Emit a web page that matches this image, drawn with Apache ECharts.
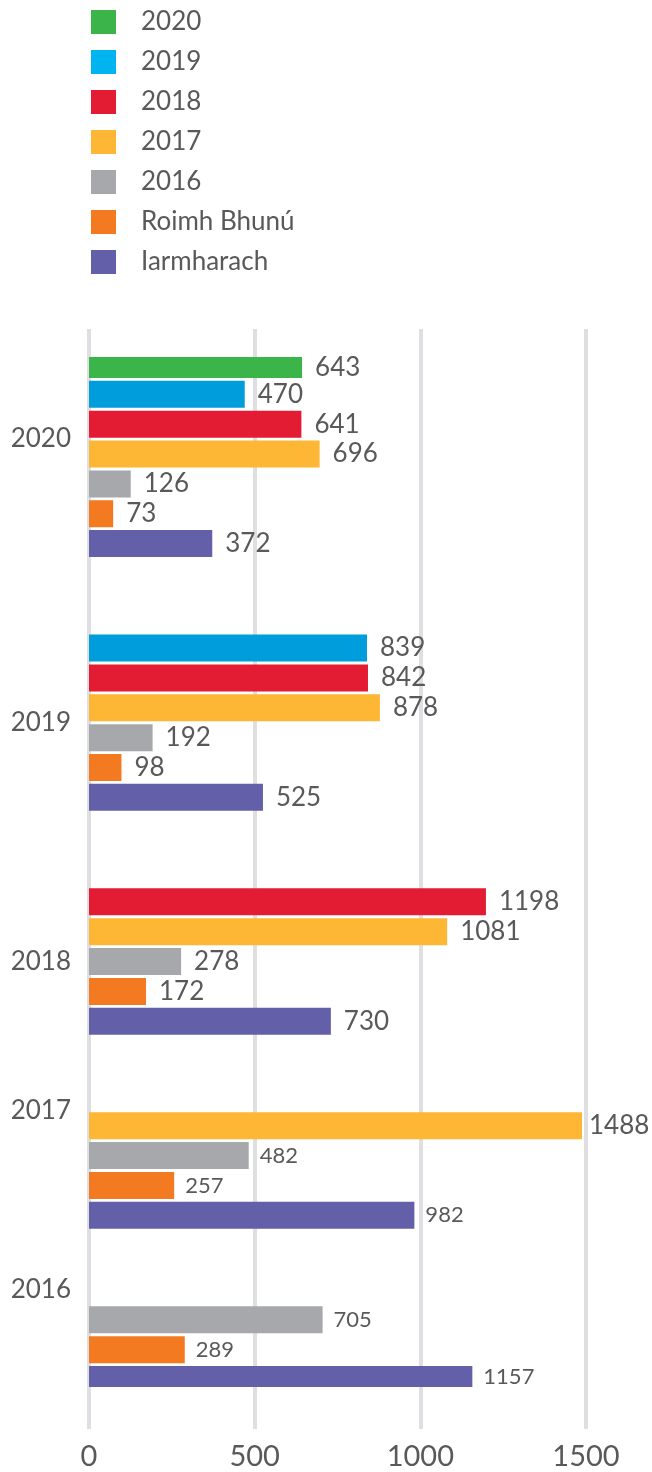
<!DOCTYPE html>
<html><head><meta charset="utf-8">
<script src="https://cdn.jsdelivr.net/npm/echarts@6/dist/echarts.min.js"></script>
<style>html,body{margin:0;padding:0;background:#fff}#c{width:652px;height:1472px}</style>
</head><body><div id="c"></div><script>
// ---- data ----
const groups = ['2020', '2019', '2018', '2017', '2016'];
const seriesNames = ['2020', '2019', '2018', '2017', '2016', 'Roimh Bhunú', 'Iarmharach'];
const v2020 = [643, null, null, null, null];
const v2019 = [470, 839, null, null, null];
const v2018 = [641, 842, 1198, null, null];
const v2017 = [696, 878, 1081, 1488, null];
const v2016 = [126, 192, 278, 482, 705];
const vRoimh = [73, 98, 172, 257, 289];
const vIarm = [372, 525, 730, 982, 1157];
const xTicks = [0, 500, 1000, 1500];

// ---- layout / style helpers ----
const values = [v2020, v2019, v2018, v2017, v2016, vRoimh, vIarm];
const colors = ['#3BB54A', '#009DDC', '#E31B33', '#FDB735', '#A7A8AB', '#F47A22', '#635FA9'];
const legendColors = ['#3BB54A', '#00B5EF', '#E31B33', '#FDB735', '#A7A8AB', '#F47A22', '#635FA9'];
const yearLabelSlot = [5, 24, 40, 50, 62];
const smallLabels = { '2017': ['2016', 'Roimh Bhunú', 'Iarmharach'], '2016': ['2016', 'Roimh Bhunú', 'Iarmharach'] };
const xMax = xTicks[xTicks.length - 1];

let slot = 0;
const slotOf = values.map(() => []);
groups.forEach((g, gi) => {
  let last = slot;
  values.forEach((arr, si) => {
    if (arr[gi] != null) { slotOf[si][gi] = slot; last = slot; slot += 2; }
  });
  slot = last + 7;
});
const nSlots = slot - 7 + 1;
const slotCats = [];
for (let i = 0; i < nSlots; i++) slotCats.push(String(i));
const slotLabel = {};
groups.forEach((g, gi) => { slotLabel[yearLabelSlot[gi]] = g; });

const textColor = '#595959';
const series = values.map((arr, si) => {
  const data = new Array(nSlots).fill(null);
  arr.forEach((v, gi) => {
    if (v == null) return;
    const small = (smallLabels[groups[gi]] || []).includes(seriesNames[si]);
    const label = {};
    if (small) { label.fontSize = 22; label.distance = 11; }
    if (v > xMax * 0.96) label.distance = 7; // keep label inside the canvas
    data[slotOf[si][gi]] = Object.keys(label).length ? { value: v, label } : v;
  });
  return {
    name: seriesNames[si], type: 'bar', xAxisIndex: 1, yAxisIndex: 1,
    data, barWidth: 27, barGap: '-100%', itemStyle: { color: colors[si] },
    label: { show: true, position: 'right', distance: 13, fontSize: 26, color: textColor, fontFamily: 'Lato' },
    emphasis: { disabled: true }, animation: false
  };
});

const chart = echarts.init(document.getElementById('c'), null, { renderer: 'canvas' });
chart.setOption({
  animation: false,
  textStyle: { fontFamily: 'Lato' },
  legend: {
    orient: 'vertical', left: 91, top: 9, icon: 'rect', padding: 0,
    itemWidth: 25, itemHeight: 24, itemGap: 14,
    selectedMode: false,
    textStyle: { fontSize: 26, color: textColor, fontFamily: 'Lato', padding: [0, 0, 0, 20] },
    data: seriesNames.map((n, i) => ({ name: n, itemStyle: { color: legendColors[i] } }))
  },
  grid: [
    { left: 89, right: 66, top: 329, bottom: 43, outerBoundsMode: 'none', containLabel: false },
    { left: 89, right: 66, top: 357, bottom: 85, outerBoundsMode: 'none', containLabel: false }
  ],
  xAxis: [
    { gridIndex: 0, type: 'value', min: xTicks[0], max: xMax, interval: 500,
      axisLine: { show: false }, axisTick: { show: false },
      splitLine: { show: true, lineStyle: { color: '#DFDFE1', width: 4 } },
      axisLabel: { fontSize: 29, color: textColor, margin: 13, fontFamily: 'Lato', formatter: v => String(v) } },
    { gridIndex: 1, type: 'value', min: xTicks[0], max: xMax, interval: 500, show: false,
      splitLine: { show: false } }
  ],
  yAxis: [
    { gridIndex: 0, type: 'value', show: false, splitLine: { show: false } },
    { gridIndex: 1, type: 'category', inverse: true, data: slotCats,
      axisLine: { show: false }, axisTick: { show: false }, splitLine: { show: false },
      axisLabel: { interval: 0, margin: 18, fontSize: 26, color: textColor, fontFamily: 'Lato',
        formatter: (val, idx) => slotLabel[idx] || '' } }
  ],
  series
});
</script></body></html>
